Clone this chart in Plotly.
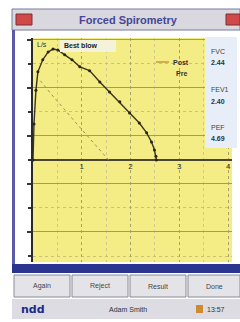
import plotly.graph_objects as go

# ---- data ----
best_vol = [0, 0.02, 0.06, 0.1, 0.2, 0.31, 0.41, 0.51, 0.65, 0.8, 0.96, 1.16, 1.37, 1.57, 1.78, 1.98, 2.18, 2.33, 2.43, 2.49, 2.52, 2.53]
best_flow = [0, 1.5, 2.9, 3.67, 4.17, 4.5, 4.62, 4.58, 4.38, 4.17, 3.88, 3.72, 3.25, 2.83, 2.42, 1.96, 1.54, 1.13, 0.75, 0.42, 0.15, 0]
pred_vol = [0.15, 0.35, 0.9, 1.41, 1.55]
pred_flow = [3.3, 2.8, 1.5, 0.33, 0]
x_ticks = [1, 2, 3, 4]
x_tick_labels = ["1", "2", "3", "4"]
result_names = ["FVC", "FEV1", "PEF"]
result_values = ["2.44", "2.40", "4.69"]
buttons = ["Again", "Reject", "Result", "Done"]

W, H = 240, 322
def X(px): return px / W
def Y(py): return 1 - py / H

fig = go.Figure()
fig.add_trace(go.Scatter(x=pred_vol, y=pred_flow, mode="lines",
                         line=dict(color="#9a9460", width=1, dash="dot"),
                         hoverinfo="skip", showlegend=False))
fig.add_trace(go.Scatter(x=best_vol, y=best_flow, mode="lines+markers",
                         line=dict(color="#3a3520", width=1.4),
                         marker=dict(size=3, color="#2a2510"),
                         hoverinfo="skip", showlegend=False))

shapes = []
# window frame / title bar
shapes.append(dict(type="rect", xref="paper", yref="paper", x0=X(12), x1=X(240), y0=Y(30), y1=Y(9),
                   fillcolor="#d8d8de", line=dict(color="#7a7aa0", width=1), layer="below"))
shapes.append(dict(type="rect", xref="paper", yref="paper", x0=X(16), x1=X(32), y0=Y(25), y1=Y(14),
                   fillcolor="#d04848", line=dict(color="#803030", width=1)))
shapes.append(dict(type="rect", xref="paper", yref="paper", x0=X(226), x1=X(240), y0=Y(25), y1=Y(14),
                   fillcolor="#d04848", line=dict(color="#803030", width=1)))
# left border
shapes.append(dict(type="rect", xref="paper", yref="paper", x0=X(12), x1=X(15), y0=Y(272), y1=Y(30),
                   fillcolor="#5a5aa8", line=dict(width=0)))
# result panel
shapes.append(dict(type="rect", xref="paper", yref="paper", x0=X(205), x1=X(237), y0=Y(148), y1=Y(37),
                   fillcolor="#e8eef8", line=dict(width=0)))
# legend line
shapes.append(dict(type="line", xref="paper", yref="paper", x0=X(156), x1=X(169), y0=Y(62), y1=Y(62),
                   line=dict(color="#b08a30", width=1.2)))
# Best blow label box
shapes.append(dict(type="rect", xref="paper", yref="paper", x0=X(60), x1=X(116), y0=Y(52), y1=Y(40),
                   fillcolor="#f4f2d8", line=dict(width=0)))
# bottom blue bar
shapes.append(dict(type="rect", xref="paper", yref="paper", x0=X(12), x1=X(240), y0=Y(273), y1=Y(264),
                   fillcolor="#2a3590", line=dict(width=0)))
# buttons
bx = [(14, 70), (72, 128), (130, 186), (188, 240)]
for (a, b) in bx:
    shapes.append(dict(type="rect", xref="paper", yref="paper", x0=X(a), x1=X(b), y0=Y(297), y1=Y(275),
                       fillcolor="#e4e4e8", line=dict(color="#8a8a9a", width=1)))
# status bar
shapes.append(dict(type="rect", xref="paper", yref="paper", x0=X(12), x1=X(240), y0=Y(319), y1=Y(299),
                   fillcolor="#dcdce2", line=dict(width=0)))
shapes.append(dict(type="rect", xref="paper", yref="paper", x0=X(196), x1=X(203), y0=Y(313), y1=Y(305),
                   fillcolor="#d08a30", line=dict(width=0)))

ann = []
def txt(x, y, t, size=7, color="#333", xa="left", fam="Liberation Sans"):
    ann.append(dict(x=X(x), y=Y(y), xref="paper", yref="paper", text=t, xanchor=xa, yanchor="middle",
                    showarrow=False, font=dict(family=fam, size=size, color=color)))

txt(128, 19.5, "<b>Forced Spirometry</b>", size=11, color="#464696", xa="center")
txt(35, 44, "L/s")
txt(62, 46, "<b>Best blow</b>", color="#222")
txt(171, 62, "<b>Post</b>")
txt(174, 73, "<b>Pre</b>")
ry = [(52, 62), (90, 101), (127, 138)]
for (n, v, (y1, y2)) in zip(result_names, result_values, ry):
    txt(209, y1, n, color="#444")
    txt(209, y2, "<b>" + v + "</b>")
for (label, (a, b)) in zip(buttons, bx):
    txt((a + b) / 2, 286, label, color="#444", xa="center")
txt(19, 309, "<b>ndd</b>", size=11, color="#1a2a90", fam="DejaVu Sans")
txt(128, 309, "Adam Smith", xa="center")
txt(205, 309, "13:57")

fig.update_layout(
    width=W, height=H, margin=dict(l=0, r=0, t=0, b=0),
    paper_bgcolor="white", plot_bgcolor="#f4ec84",
    shapes=shapes, annotations=ann, showlegend=False,
    xaxis=dict(domain=[X(33), X(232)], range=[0, 4.08], anchor="free", position=Y(160),
               tickvals=x_ticks, ticktext=x_tick_labels, ticks="", ticklabelstandoff=0,
               tickfont=dict(family="Liberation Sans", size=8, color="#333"),
               showline=False, zeroline=False,
               showgrid=True, gridcolor="#a8a268", griddash="dot", gridwidth=1,
               minor=dict(dtick=0.5, tick0=0, showgrid=True, gridcolor="#cfc88a", griddash="dot", gridwidth=1),
               fixedrange=True),
    yaxis=dict(domain=[Y(262), Y(38)], range=[-4.25, 5.08],
               tick0=1, dtick=2, showticklabels=False,
               ticks="outside", ticklen=4, tickwidth=2, tickcolor="#333",
               showgrid=True, gridcolor="#a89c58", gridwidth=1.2,
               minor=dict(dtick=1, tick0=0, showgrid=True, gridcolor="#c8c080", griddash="dot",
                          ticks="outside", ticklen=3, tickcolor="#333"),
               zeroline=True, zerolinecolor="#4a4530", zerolinewidth=1.8,
               showline=True, linecolor="#2a2a2a", linewidth=2, fixedrange=True),
)
fig.write_html("out.html", config={"displayModeBar": False},
               post_script="document.body.style.margin='0';document.body.style.overflow='hidden';")
